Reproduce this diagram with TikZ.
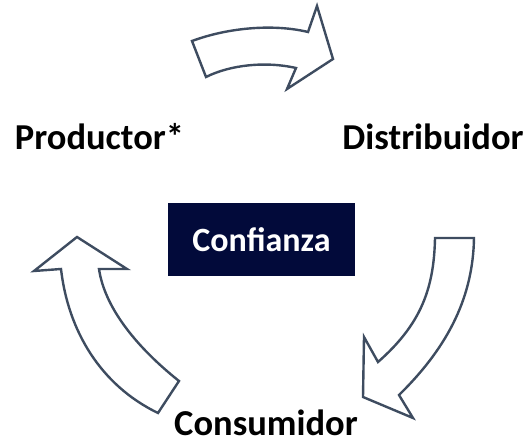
\documentclass[tikz,border=0pt]{standalone}
\usepackage{fontspec}
\setmainfont{Carlito}
\definecolor{navy}{RGB}{2,10,58}
\definecolor{slate}{RGB}{62,76,96}

\begin{document}
\begin{tikzpicture}[x=1pt, y=-1pt,
    lbl/.style={font=\fontsize{36.5}{40}\selectfont\bfseries, anchor=base, inner sep=0pt},
    blockarrow/.style={draw=slate, fill=white, line width=2.4pt, line join=miter}]
  \useasboundingbox (0,0) rectangle (527,443);

  \node (P) [lbl] at (99.5,150) {Productor*};
  \node (D) [lbl] at (433,149.5) {Distribuidor};
  \node (C) [lbl] at (266,435) {Consumidor};
  \node (T) [fill=navy, text=white, minimum width=187pt, minimum height=73pt,
    font=\fontsize{34}{38}\selectfont\bfseries] at (261.5,239.5) {Confianza};

  % top: Productor* -> Distribuidor
  \draw[blockarrow] (192,41) .. controls (230,27) and (275,24) .. (308,32)
    -- (317,6) -- (333,59) -- (287,89) -- (296,68)
    .. controls (265,61) and (230,65) .. (206,77) -- cycle;
  % right: Distribuidor -> Consumidor
  \draw[blockarrow] (435,238) -- (474,238)
    .. controls (473,295) and (450,345) .. (399,395)
    -- (413,418) -- (363,397) -- (364,337) -- (378,362)
    .. controls (420,325) and (434,290) .. cycle;
  % left: Consumidor -> Productor*
  \draw[blockarrow] (127,269) -- (77,237) -- (34,271) -- (61,269)
    .. controls (68,330) and (100,385) .. (158,413) -- (179,381)
    .. controls (140,350) and (105,310) .. (99,269) -- cycle;
\end{tikzpicture}
\end{document}
